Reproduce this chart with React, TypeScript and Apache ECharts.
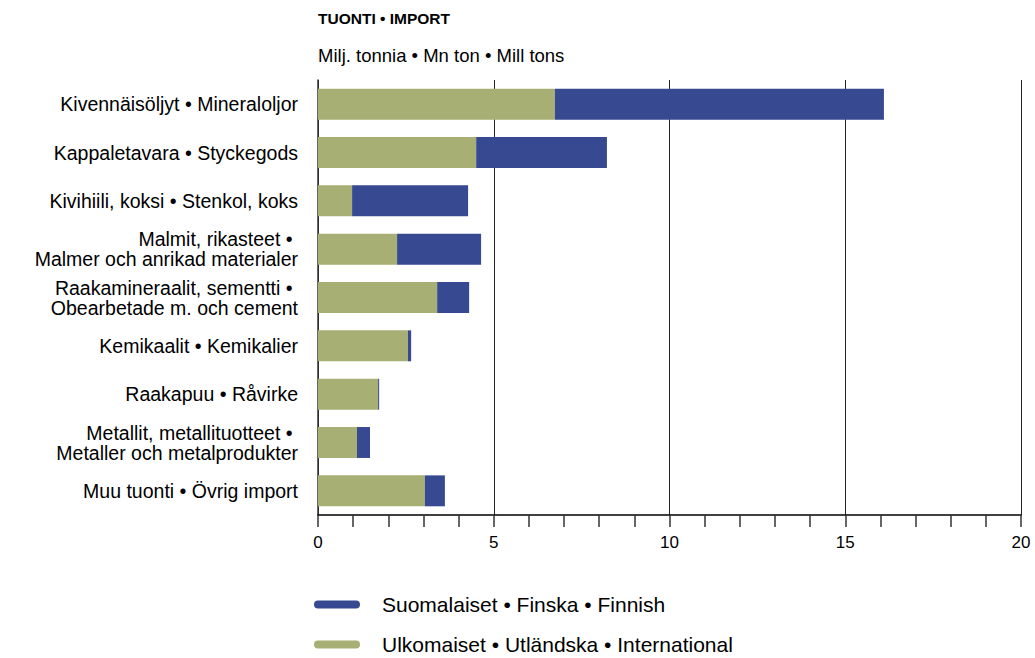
import React, { useEffect, useRef } from "react";
import * as echarts from "echarts";

const categories = [
  "Kivennäisöljyt • Mineraloljor",
  "Kappaletavara • Styckegods",
  "Kivihiili, koksi • Stenkol, koks",
  "Malmit, rikasteet • \nMalmer och anrikad materialer",
  "Raakamineraalit, sementti • \nObearbetade m. och cement",
  "Kemikaalit • Kemikalier",
  "Raakapuu • Råvirke",
  "Metallit, metallituotteet • \nMetaller och metalprodukter",
  "Muu tuonti • Övrig import",
];

const international = [6.74, 4.5, 0.97, 2.25, 3.39, 2.56, 1.71, 1.11, 3.04];
const finnish = [9.36, 3.72, 3.3, 2.39, 0.91, 0.09, 0.03, 0.37, 0.57];

const seriesNames = {
  finnish: "Suomalaiset • Finska • Finnish",
  international: "Ulkomaiset • Utländska • International",
};

const title = "TUONTI • IMPORT";
const subtitle = "Milj. tonnia • Mn ton • Mill tons";

const GREEN = "#A8AF74";
const BLUE = "#374A91";
const FONT = "Liberation Sans, Arial, sans-serif";
const ICON = "path://M4,0 H42 A4,4 0 0 1 42,8 H4 A4,4 0 0 1 4,0 Z";

function legendFor(name: string, top: number) {
  return {
    orient: "vertical",
    left: 314,
    top,
    padding: 0,
    itemWidth: 46,
    itemHeight: 8,
    itemGap: 0,
    icon: ICON,
    data: [name],
    textStyle: { fontSize: 21, color: "#000", fontFamily: FONT, padding: [0, 0, 0, 17] },
  };
}

export default function App() {
  const ref = useRef<HTMLDivElement>(null);
  useEffect(() => {
    if (!ref.current) return;
    const chart = echarts.init(ref.current, undefined, { renderer: "svg" });
    chart.setOption({
      animation: false,
      textStyle: { fontFamily: FONT },
      title: [
        {
          text: title,
          left: 313,
          top: 5,
          textStyle: { fontSize: 15.5, fontWeight: "bold", color: "#000", fontFamily: FONT },
        },
        {
          text: subtitle,
          left: 313,
          top: 41,
          textStyle: { fontSize: 18.5, fontWeight: "normal", color: "#000", fontFamily: FONT },
        },
      ],
      legend: [legendFor(seriesNames.finnish, 594), legendFor(seriesNames.international, 634)],
      grid: { left: 318, right: 14, top: 80, bottom: 143, containLabel: false },
      xAxis: {
        type: "value",
        min: 0,
        max: 20,
        interval: 5,
        axisLine: { show: true, lineStyle: { color: "#000", width: 1.5 } },
        axisTick: { show: true, length: 12, lineStyle: { color: "#333", width: 1.5 } },
        minorTick: { show: true, splitNumber: 5, length: 12, lineStyle: { color: "#333", width: 1.5 } },
        axisLabel: { fontSize: 17, color: "#000", margin: 19, fontFamily: FONT },
        splitLine: { show: true, lineStyle: { color: "#222", width: 1 } },
      },
      yAxis: {
        type: "category",
        data: categories,
        inverse: true,
        axisLine: { show: true, lineStyle: { color: "#333", width: 1.5 } },
        axisTick: { show: false },
        axisLabel: {
          fontSize: 19.5,
          color: "#000",
          margin: 20,
          lineHeight: 20,
          align: "right",
          fontFamily: FONT,
        },
      },
      series: [
        {
          name: seriesNames.international,
          type: "bar",
          stack: "total",
          data: international,
          barCategoryGap: "36%",
          itemStyle: { color: GREEN },
        },
        {
          name: seriesNames.finnish,
          type: "bar",
          stack: "total",
          data: finnish,
          barCategoryGap: "36%",
          itemStyle: { color: BLUE },
        },
      ],
    });
    return () => chart.dispose();
  }, []);
  return <div ref={ref} style={{ width: 1035, height: 658, position: "absolute", left: 0, top: 0 }} />;
}
